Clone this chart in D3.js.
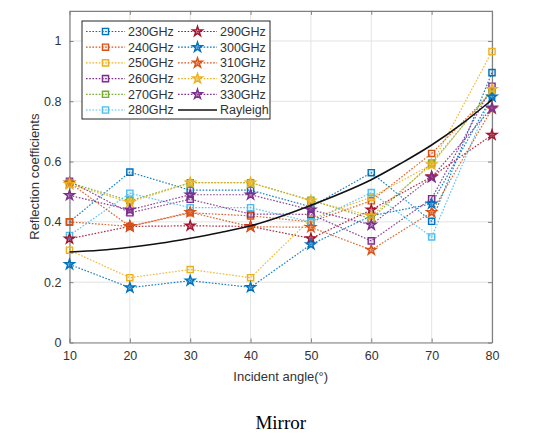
<!DOCTYPE html>
<html><head><meta charset="utf-8">
<script src="https://cdn.jsdelivr.net/npm/d3@7"></script>
<style>body{margin:0;background:#fff} text{font-family:"Liberation Sans",Arial,sans-serif}</style>
</head><body><svg id="c" width="537" height="442"></svg>
<script>
// ---- data ----
const angles = [10, 20, 30, 40, 50, 60, 70, 80];
const seriesNames = ["230GHz","240GHz","250GHz","260GHz","270GHz","280GHz","290GHz","300GHz","310GHz","320GHz","330GHz"];
const s230 = [0.400, 0.565, 0.505, 0.505, 0.450, 0.563, 0.402, 0.895];
const s240 = [0.400, 0.385, 0.430, 0.420, 0.400, 0.470, 0.627, 0.830];
const s250 = [0.306, 0.215, 0.242, 0.215, 0.410, 0.482, 0.590, 0.965];
const s260 = [0.535, 0.430, 0.475, 0.426, 0.425, 0.337, 0.477, 0.850];
const s270 = [0.530, 0.470, 0.530, 0.530, 0.472, 0.410, 0.595, 0.835];
const s280 = [0.355, 0.495, 0.447, 0.447, 0.400, 0.497, 0.350, 0.820];
const s290 = [0.344, 0.385, 0.387, 0.385, 0.345, 0.440, 0.550, 0.688];
const s300 = [0.259, 0.182, 0.205, 0.183, 0.325, 0.420, 0.460, 0.815];
const s310 = [0.530, 0.385, 0.432, 0.384, 0.382, 0.307, 0.432, 0.775];
const s320 = [0.525, 0.465, 0.530, 0.530, 0.470, 0.420, 0.590, 0.840];
const s330 = [0.488, 0.440, 0.490, 0.490, 0.440, 0.390, 0.548, 0.778];
const rayleighAngles = [10, 15, 20, 25, 30, 35, 40, 45, 50, 55, 60, 65, 70, 75, 80];
const rayleighValues = [0.300, 0.306, 0.316, 0.329, 0.346, 0.365, 0.387, 0.418, 0.455, 0.495, 0.540, 0.595, 0.655, 0.725, 0.805];
const xTicks = [10, 20, 30, 40, 50, 60, 70, 80];
const yTicks = [0, 0.2, 0.4, 0.6, 0.8, 1];
const yTickLabels = ["0", "0.2", "0.4", "0.6", "0.8", "1"];

// ---- styling ----
const colors = ["#0072BD","#D95319","#EDB120","#7E2F8E","#77AC30","#4DBEEE","#A2142F","#0072BD","#D95319","#EDB120","#7E2F8E"];
const markers = ["square","square","square","square","square","square","star","star","star","star","star"];
const values = [s230,s240,s250,s260,s270,s280,s290,s300,s310,s320,s330];

const svg = d3.select("#c");
const L = 69.5, R = 492, T = 10.8, B = 342.5;
const x = d3.scaleLinear().domain([10, 80]).range([L, R]);
const y = d3.scaleLinear().domain([0, 1.1]).range([B, T]);

// grid
const g = svg.append("g");
g.selectAll(".gx").data(xTicks).enter().append("line")
  .attr("x1", d => x(d)).attr("x2", d => x(d)).attr("y1", T).attr("y2", B)
  .attr("stroke", "#e3e3e3").attr("stroke-width", 1);
g.selectAll(".gy").data(yTicks).enter().append("line")
  .attr("x1", L).attr("x2", R).attr("y1", d => y(d)).attr("y2", d => y(d))
  .attr("stroke", "#e3e3e3").attr("stroke-width", 1);

// axes
const axCol = "#333";
const xAxis = svg.append("g").attr("transform", `translate(0,${B})`)
  .call(d3.axisBottom(x).tickValues(xTicks).tickSizeInner(-4).tickSizeOuter(0).tickPadding(9));
const yAxis = svg.append("g").attr("transform", `translate(${L},0)`)
  .call(d3.axisLeft(y).tickValues(yTicks).tickFormat((d, i) => yTickLabels[i]).tickSizeInner(-4).tickSizeOuter(0).tickPadding(8));
const xTop = svg.append("g").attr("transform", `translate(0,${T})`)
  .call(d3.axisTop(x).tickValues(xTicks).tickSizeInner(-4).tickSizeOuter(0).tickFormat(""));
const yRight = svg.append("g").attr("transform", `translate(${R},0)`)
  .call(d3.axisRight(y).tickValues(yTicks).tickSizeInner(-4).tickSizeOuter(0).tickFormat(""));
[xAxis, yAxis, xTop, yRight].forEach(a => {
  a.select(".domain").attr("stroke", "#808080").attr("stroke-width", 1.2);
  a.selectAll(".tick line").attr("stroke", "#808080");
  a.selectAll(".tick text").attr("fill", axCol).attr("font-size", 12.5)
    .attr("font-family", "'Liberation Sans',Arial,sans-serif");
});

// series lines and markers
const line = d3.line().x((d, i) => x(angles[i])).y(d => y(d));
const sym = (m) => d3.symbol().type(m === "star" ? d3.symbolStar : d3.symbolSquare).size(m === "star" ? 30 : 38)();
values.forEach((vals, k) => {
  svg.append("path").datum(vals).attr("d", line)
    .attr("fill", "none").attr("stroke", colors[k]).attr("stroke-width", 1.2)
    .attr("stroke-dasharray", "1.6,1.6").attr("opacity", 0.9);
});
values.forEach((vals, k) => {
  svg.selectAll(null).data(vals).enter().append("path")
    .attr("d", sym(markers[k]))
    .attr("transform", (d, i) => `translate(${x(angles[i])},${y(d)})`)
    .attr("fill", colors[k]).attr("fill-opacity", markers[k] === "star" ? 0.5 : 0.12)
    .attr("stroke", colors[k]).attr("stroke-width", 1.4);
});

// Rayleigh
const rl = d3.line().curve(d3.curveCatmullRom).x((d, i) => x(rayleighAngles[i])).y(d => y(d));
svg.append("path").datum(rayleighValues).attr("d", rl)
  .attr("fill", "none").attr("stroke", "#111").attr("stroke-width", 1.6);

// legend
const lg = svg.append("g");
lg.append("rect").attr("x", 82).attr("y", 21).attr("width", 188).attr("height", 98)
  .attr("fill", "#fff").attr("stroke", "#262626").attr("stroke-width", 1);
const legendNames = seriesNames.concat(["Rayleigh"]);
legendNames.forEach((nm, k) => {
  const col = k < 6 ? 0 : 1;
  const row = k < 6 ? k : k - 6;
  const ly = 31.5 + row * 15.7;
  const x0 = col === 0 ? 86 : 178;
  const gg = lg.append("g");
  if (k < 11) {
    gg.append("line").attr("x1", x0).attr("x2", x0 + 39).attr("y1", ly).attr("y2", ly)
      .attr("stroke", colors[k]).attr("stroke-width", 1.2).attr("stroke-dasharray", "1.6,1.6");
    gg.append("path").attr("d", sym(markers[k]))
      .attr("transform", `translate(${x0 + 19.5},${ly})`)
      .attr("fill", colors[k]).attr("fill-opacity", markers[k] === "star" ? 0.5 : 0.12)
      .attr("stroke", colors[k]).attr("stroke-width", 1.4);
  } else {
    gg.append("line").attr("x1", x0).attr("x2", x0 + 39).attr("y1", ly).attr("y2", ly)
      .attr("stroke", "#111").attr("stroke-width", 1.6);
  }
  gg.append("text").attr("x", x0 + 42).attr("y", ly).attr("dy", "0.35em")
    .attr("font-size", 12.5).attr("fill", axCol).text(nm);
});

// axis titles
svg.append("text").attr("x", (L + R) / 2).attr("y", 381).attr("text-anchor", "middle")
  .attr("font-size", 13).attr("fill", axCol).text("Incident angle(°)");
svg.append("text").attr("transform", `translate(39,${(T + B) / 2}) rotate(-90)`)
  .attr("text-anchor", "middle").attr("font-size", 13).attr("fill", axCol).text("Reflection coefficients");
svg.append("text").attr("x", (L + R) / 2).attr("y", 429).attr("text-anchor", "middle")
  .attr("font-size", 19).attr("fill", "#000")
  .style("font-family", "'Liberation Serif','Times New Roman',serif").text("Mirror");
</script></body></html>
